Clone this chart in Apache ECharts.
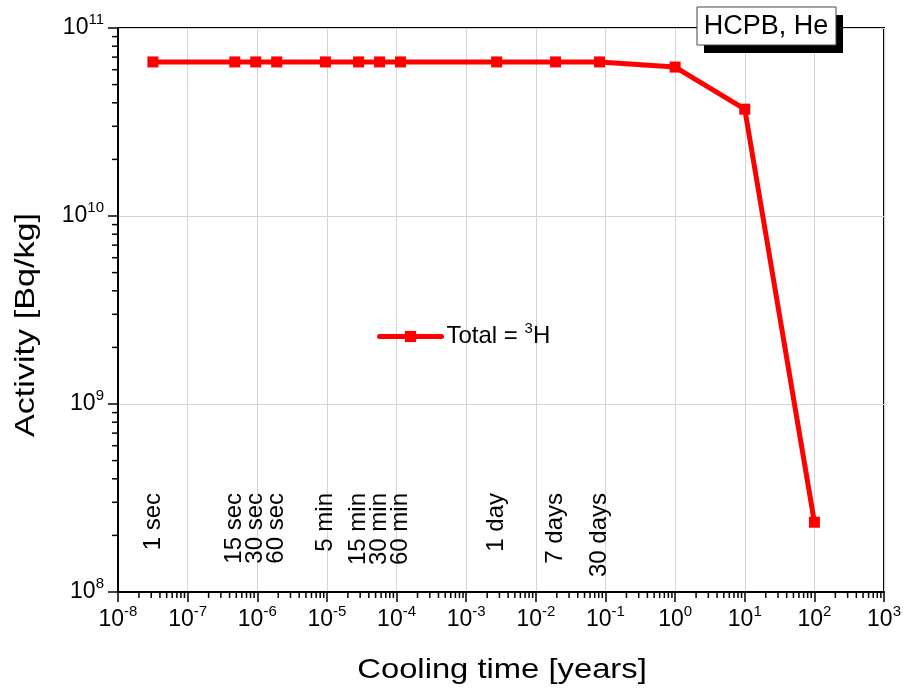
<!DOCTYPE html>
<html>
<head>
<meta charset="utf-8">
<script src="https://cdn.jsdelivr.net/npm/echarts@6/dist/echarts.min.js"></script>
<style>
  html, body { margin: 0; padding: 0; background: #fff; }
  #chart { width: 904px; height: 691px; }
</style>
</head>
<body>
<div id="chart"></div>
<script>
const FONT = '"Liberation Sans", Arial, Helvetica, sans-serif';

// Cooling times of the calculated steps, in years
const coolingYears = [3.17e-8, 4.75e-7, 9.51e-7, 1.90e-6, 9.51e-6, 2.85e-5, 5.71e-5, 1.14e-4,
                      2.74e-3, 1.92e-2, 8.21e-2, 1, 10, 100];
// Total activity in Bq/kg (all of it from tritium)
const activity = [6.6e10, 6.6e10, 6.6e10, 6.6e10, 6.6e10, 6.6e10, 6.6e10, 6.6e10,
                  6.6e10, 6.6e10, 6.6e10, 6.2e10, 3.7e10, 2.35e8];
// Names of the short cooling steps, printed above their times
const stepNames = ['1 sec', '15 sec', '30 sec', '60 sec', '5 min', '15 min', '30 min', '60 min',
                   '1 day', '7 days', '30 days'];

const seriesName = 'Total = ³H';
const boxTitle = 'HCPB, He';
const xAxisTitle = 'Cooling time [years]';
const yAxisTitle = 'Activity [Bq/kg]';

const X_MIN = 1e-8, X_MAX = 1e3;
const Y_MIN = 1e8, Y_MAX = 1e11;

// Logarithmic minor ticks (2..9 in every decade)
const minorFactors = [2, 3, 4, 5, 6, 7, 8, 9];
const xDecades = [-8, -7, -6, -5, -4, -3, -2, -1, 0, 1, 2];
const yDecades = [8, 9, 10];
const xMinor = [];
xDecades.forEach(d => minorFactors.forEach(k => xMinor.push(k * Math.pow(10, d))));
const yMinor = [];
yDecades.forEach(d => minorFactors.forEach(k => yMinor.push(k * Math.pow(10, d))));

const powerLabel = v => {
  const e = Math.round(Math.log10(v));
  return '{b|10}{s|' + e + '}';
};
const powerRich = {
  b: { fontFamily: FONT, fontSize: 23, color: '#000' },
  s: { fontFamily: FONT, fontSize: 15, color: '#000', padding: [0, 0, 16, 0] }
};

const chart = echarts.init(document.getElementById('chart'), null, { renderer: 'canvas' });

const option = {
  backgroundColor: '#fff',
  animation: false,
  grid: {
    left: 118, right: 17, top: 28, bottom: 99,
    show: true, borderColor: '#000', borderWidth: 2, backgroundColor: 'transparent'
  },
  xAxis: {
    type: 'log', logBase: 10, min: X_MIN, max: X_MAX, interval: 1,
    axisLine: { show: true, onZero: false, lineStyle: { color: '#000', width: 2 } },
    axisTick: { show: true, inside: false, length: 10, lineStyle: { color: '#000', width: 1.5 } },
    minorTick: { show: false },
    splitLine: { show: true, lineStyle: { color: '#d4d4d4', width: 1 } },
    axisLabel: { margin: 12, interval: 0, formatter: powerLabel, rich: powerRich, showMinLabel: true, showMaxLabel: true }
  },
  yAxis: {
    type: 'log', logBase: 10, min: Y_MIN, max: Y_MAX, interval: 1,
    axisLine: { show: true, onZero: false, lineStyle: { color: '#000', width: 2 } },
    axisTick: { show: true, inside: false, length: 10, lineStyle: { color: '#000', width: 1.5 } },
    minorTick: { show: false },
    splitLine: { show: true, lineStyle: { color: '#d4d4d4', width: 1 } },
    axisLabel: { margin: 14, formatter: powerLabel, rich: powerRich }
  },
  legend: {
    data: [seriesName],
    left: 372, top: 316,
    itemWidth: 62, itemHeight: 14, itemGap: 0,
    lineStyle: { width: 5, color: '#ff0000', cap: 'round' },
    formatter: name => '{t|' + name.replace('³', '}{s|3}{t|') + '}',
    textStyle: {
      fontFamily: FONT, fontSize: 24, color: '#000',
      rich: {
        t: { fontFamily: FONT, fontSize: 24, color: '#000' },
        s: { fontFamily: FONT, fontSize: 15, color: '#000', padding: [0, 0, 16, 0] }
      }
    }
  },
  series: [
    {
      name: seriesName,
      type: 'line',
      data: coolingYears.map((t, i) => [t, activity[i]]),
      symbol: 'rect',
      symbolSize: 11,
      lineStyle: { color: '#ff0000', width: 5 },
      itemStyle: { color: '#ff0000' },
      z: 5
    },
    {
      // minor ticks under the x axis
      type: 'custom', silent: true, clip: false, z: 6,
      data: xMinor.map(v => [v, Y_MIN]),
      renderItem: (params, api) => {
        const p = api.coord([api.value(0), api.value(1)]);
        return { type: 'line', shape: { x1: p[0], y1: p[1] + 1, x2: p[0], y2: p[1] + 6 },
                 style: { stroke: '#000', lineWidth: 1.5 } };
      }
    },
    {
      // minor ticks left of the y axis
      type: 'custom', silent: true, clip: false, z: 6,
      data: yMinor.map(v => [X_MIN, v]),
      renderItem: (params, api) => {
        const p = api.coord([api.value(0), api.value(1)]);
        return { type: 'line', shape: { x1: p[0] - 1, y1: p[1], x2: p[0] - 6, y2: p[1] },
                 style: { stroke: '#000', lineWidth: 1.5 } };
      }
    },
    {
      // names of the cooling steps, written vertically
      type: 'custom', silent: true, clip: false, z: 4,
      data: stepNames.map((n, i) => [coolingYears[i], Y_MIN]),
      renderItem: (params, api) => {
        const p = api.coord([api.value(0), api.value(1)]);
        return {
          type: 'text',
          x: p[0], y: p[1] - 99,
          rotation: Math.PI / 2,
          style: {
            text: stepNames[params.dataIndex],
            fontFamily: FONT, fontSize: 24, fill: '#000',
            align: 'right', verticalAlign: 'middle'
          }
        };
      }
    }
  ],
  graphic: [
    { type: 'rect', z: 100, x: 704, y: 15, shape: { width: 139, height: 38 }, style: { fill: '#000' } },
    { type: 'rect', z: 101, x: 697, y: 7, shape: { width: 139, height: 38 },
      style: { fill: '#fff', stroke: '#444', lineWidth: 1 } },
    { type: 'text', z: 102, x: 766, y: 27,
      style: { text: boxTitle, fontFamily: FONT, fontSize: 27, fill: '#000', align: 'center', verticalAlign: 'middle' } },
    { type: 'text', z: 102, x: 502, y: 670, scaleX: 1.17,
      style: { text: xAxisTitle, fontFamily: FONT, fontSize: 28, fill: '#000', align: 'center', verticalAlign: 'middle' } },
    { type: 'text', z: 102, x: 26, y: 325, rotation: Math.PI / 2, scaleX: 1.22,
      style: { text: yAxisTitle, fontFamily: FONT, fontSize: 28, fill: '#000', align: 'center', verticalAlign: 'middle' } }
  ]
};

chart.setOption(option);
</script>
</body>
</html>
